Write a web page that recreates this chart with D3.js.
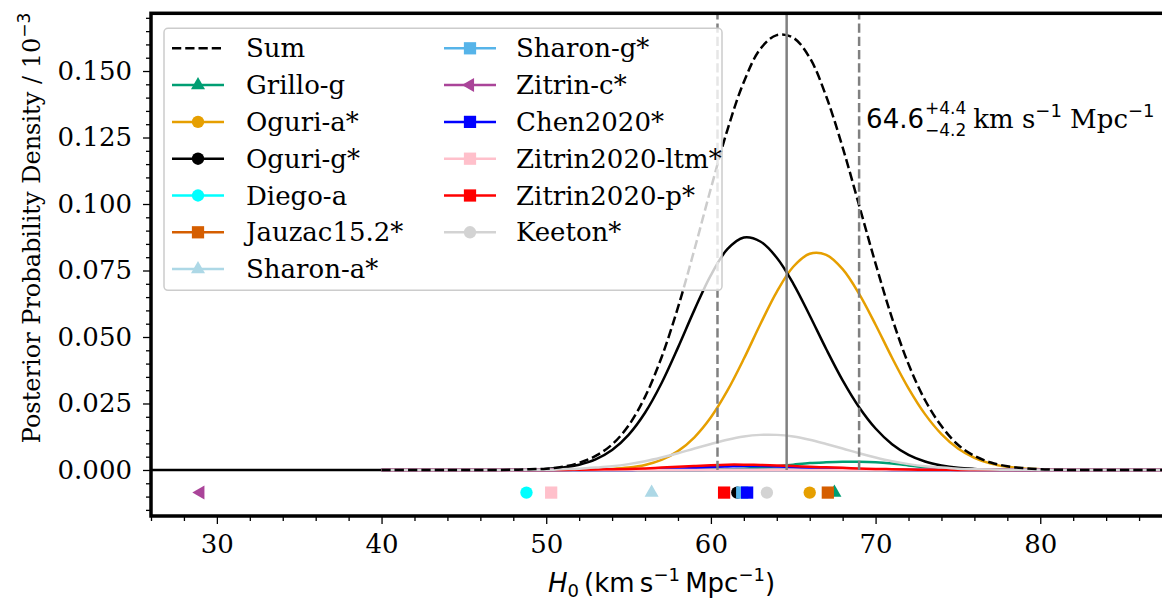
<!DOCTYPE html>
<html>
<head>
<meta charset="utf-8">
<script src="https://cdn.jsdelivr.net/npm/d3@7/dist/d3.min.js"></script>
<style>
  body { margin: 0; background: #fff; }
  svg { display: block; }
</style>
</head>
<body>
<svg id="chart" width="1162" height="600"></svg>
<script>
// H0 sample positions (km/s/Mpc) for the posterior curves
const h0Grid = [40, 44, 46, 48, 49, 50, 51, 52, 53, 54, 55, 56, 57, 58, 59, 60, 61, 62, 63, 64,
                65, 66, 67, 68, 69, 70, 71, 72, 73, 74, 75, 76, 77, 78, 79, 80, 81, 82, 84, 88];

// posterior densities (axis units, i.e. x 10^-3)
const sumDensity = [0, 0, 0, 0.0001, 0.0003, 0.0005, 0.0012, 0.0027, 0.0053, 0.0096, 0.0167, 0.0275, 0.0423, 0.0611,
  0.0829, 0.1059, 0.1278, 0.1459, 0.1583, 0.1635, 0.1625, 0.1550, 0.1405, 0.1213, 0.0995, 0.0776, 0.0571,
  0.0398, 0.0263, 0.0165, 0.0095, 0.0053, 0.0028, 0.0014, 0.0007, 0.0003, 0.0001, 0, 0, 0];
const grilloG = [0, 0, 0, 0, 0, 0, 0, 0, 0, 0, 0, 0, 0, 0, 0, 0.0001, 0.0002, 0.0005, 0.0009, 0.0014, 0.0020,
  0.0026, 0.0029, 0.0031, 0.0031, 0.0029, 0.0024, 0.0017, 0.0010, 0.0005, 0.0002, 0.0001, 0, 0, 0, 0, 0, 0, 0, 0];
const oguriA = [0, 0, 0, 0, 0, 0, 0, 0.0001, 0.0002, 0.0004, 0.0009, 0.0019, 0.0038, 0.0071, 0.0123, 0.0198,
  0.0298, 0.0418, 0.0548, 0.0670, 0.0764, 0.0813, 0.0809, 0.0755, 0.0662, 0.0546, 0.0422, 0.0307, 0.0210,
  0.0135, 0.0081, 0.0046, 0.0024, 0.0012, 0.0006, 0.0003, 0.0001, 0, 0, 0];
const oguriG = [0, 0, 0, 0.0001, 0.0002, 0.0004, 0.0009, 0.0020, 0.0040, 0.0075, 0.0132, 0.0215, 0.0326, 0.0460,
  0.0602, 0.0733, 0.0830, 0.0874, 0.0859, 0.0798, 0.0701, 0.0581, 0.0455, 0.0337, 0.0236, 0.0156, 0.0097,
  0.0057, 0.0032, 0.0017, 0.0008, 0.0004, 0.0002, 0.0001, 0, 0, 0, 0, 0, 0];
const chen2020 = [0, 0, 0, 0, 0, 0, 0, 0, 0, 0, 0, 0.0002, 0.0003, 0.0005, 0.0008, 0.0011, 0.0013, 0.0015, 0.0015,
  0.0013, 0.0011, 0.0008, 0.0006, 0.0004, 0.0002, 0.0001, 0, 0, 0, 0, 0, 0, 0, 0, 0, 0, 0, 0, 0, 0];
const zitrin2020p = [0, 0, 0, 0, 0, 0, 0, 0.0001, 0.0002, 0.0003, 0.0004, 0.0006, 0.0009, 0.0012, 0.0015, 0.0018,
  0.0020, 0.0020, 0.0019, 0.0017, 0.0015, 0.0012, 0.0010, 0.0008, 0.0006, 0.0004, 0.0003, 0.0002, 0.0001,
  0.0001, 0, 0, 0, 0, 0, 0, 0, 0, 0, 0];
const keeton = [0, 0, 0, 0, 0.0001, 0.0001, 0.0003, 0.0005, 0.0009, 0.0014, 0.0022, 0.0033, 0.0047, 0.0063,
  0.0081, 0.0098, 0.0114, 0.0126, 0.0132, 0.0132, 0.0126, 0.0114, 0.0098, 0.0081, 0.0063, 0.0047, 0.0033,
  0.0022, 0.0014, 0.0009, 0.0005, 0.0003, 0.0002, 0.0001, 0.0001, 0, 0, 0, 0, 0];
// models whose curve stays on zero over the plotted range
const flatH = [40, 88];
const flatZero = [0, 0];
// Oguri-g is also drawn on zero below the grid
const lowTailH = [26, 40];

// best-fit H0 per model, shown as markers under the curves
const modelNames = ["Grillo-g", "Oguri-a*", "Oguri-g*", "Diego-a", "Jauzac15.2*", "Sharon-a*",
  "Sharon-g*", "Zitrin-c*", "Chen2020*", "Zitrin2020-ltm*", "Zitrin2020-p*", "Keeton*"];
const modelBestH0 = [67.5, 66.0, 61.6, 48.8, 67.1, 56.4, 61.9, 29.0, 62.2, 50.3, 60.8, 63.4];
const markerLevel = -0.0085;

const medianH0 = 64.6, errLow = 4.2, errHigh = 4.4;
const xMajorTicks = [30, 40, 50, 60, 70, 80];
const yMajorTicks = [0, 0.025, 0.05, 0.075, 0.1, 0.125, 0.15];

const curveData = {
  "Grillo-g": [h0Grid, grilloG], "Oguri-a*": [h0Grid, oguriA], "Oguri-g*": [h0Grid, oguriG],
  "Diego-a": [flatH, flatZero], "Jauzac15.2*": [flatH, flatZero], "Sharon-a*": [flatH, flatZero],
  "Sharon-g*": [flatH, flatZero], "Zitrin-c*": [flatH, flatZero], "Chen2020*": [h0Grid, chen2020],
  "Zitrin2020-ltm*": [flatH, flatZero], "Zitrin2020-p*": [h0Grid, zitrin2020p], "Keeton*": [h0Grid, keeton]
};

const modelStyle = {
  "Grillo-g": { color: "#009E73", shape: "up" },
  "Oguri-a*": { color: "#E69F00", shape: "circle" },
  "Oguri-g*": { color: "#000000", shape: "circle" },
  "Diego-a": { color: "#00FFFF", shape: "circle" },
  "Jauzac15.2*": { color: "#D55E00", shape: "square" },
  "Sharon-a*": { color: "#ADD8E6", shape: "up" },
  "Sharon-g*": { color: "#56B4E9", shape: "square" },
  "Zitrin-c*": { color: "#AA4499", shape: "left" },
  "Chen2020*": { color: "#0000FF", shape: "square" },
  "Zitrin2020-ltm*": { color: "#FFC0CB", shape: "square" },
  "Zitrin2020-p*": { color: "#FF0000", shape: "square" },
  "Keeton*": { color: "#D3D3D3", shape: "circle" }
};

const serif = "'DejaVu Serif', serif";
const sans = "'DejaVu Sans', sans-serif";

const svg = d3.select("#chart");
const plot = { left: 151, right: 1172, top: 13.3, bottom: 516 };

const x = d3.scaleLinear().domain([26, 88]).range([plot.left, plot.right]);
const y = d3.scaleLinear().domain([-0.0173, 0.1717]).range([plot.bottom, plot.top]);

svg.append("defs").append("clipPath").attr("id", "clip")
  .append("rect").attr("x", plot.left).attr("y", plot.top)
  .attr("width", plot.right - plot.left).attr("height", plot.bottom - plot.top);

const line = d3.line().x(d => x(d[0])).y(d => y(d[1])).curve(d3.curveCatmullRom.alpha(0.5));
const zip = (hs, vs) => hs.map((h, i) => [h, vs[i]]);

function symbolPath(shape) {
  if (shape === "circle") return d3.symbol(d3.symbolCircle, 120)();
  if (shape === "square") return d3.symbol(d3.symbolSquare, 150)();
  return d3.symbol(d3.symbolTriangle, 85)();
}
const rot = shape => shape === "left" ? " rotate(-90)" : "";

const g = svg.append("g").attr("clip-path", "url(#clip)");

// curves
g.append("path").attr("d", line(zip(lowTailH, flatZero)))
  .attr("fill", "none").attr("stroke", modelStyle["Oguri-g*"].color).attr("stroke-width", 2.5);
modelNames.forEach(name => {
  const [hs, vs] = curveData[name];
  g.append("path").attr("d", line(zip(hs, vs)))
    .attr("fill", "none").attr("stroke", modelStyle[name].color).attr("stroke-width", 2.5);
});
g.append("path").attr("d", line(zip(h0Grid, sumDensity)))
  .attr("fill", "none").attr("stroke", "#000").attr("stroke-width", 2.5)
  .attr("stroke-dasharray", "9.25,4");

// median and 68% interval
g.append("line").attr("x1", x(medianH0)).attr("x2", x(medianH0))
  .attr("y1", y(0)).attr("y2", plot.top).attr("stroke", "#808080").attr("stroke-width", 2.5);
[medianH0 - errLow, medianH0 + errHigh].forEach(v => {
  g.append("line").attr("x1", x(v)).attr("x2", x(v))
    .attr("y1", y(0)).attr("y2", plot.top).attr("stroke", "#808080").attr("stroke-width", 2.5)
    .attr("stroke-dasharray", "9.25,4");
});

// best-fit markers
modelNames.forEach((name, i) => {
  const s = modelStyle[name];
  g.append("path").attr("d", symbolPath(s.shape))
    .attr("transform", `translate(${x(modelBestH0[i])},${y(markerLevel)})${rot(s.shape)}`)
    .attr("fill", s.color);
});

// axes
svg.append("g").attr("transform", `translate(0,${plot.bottom})`)
  .call(d3.axisBottom(x).tickValues(xMajorTicks).tickSize(8).tickPadding(10.5).tickSizeOuter(0));
const xMinor = d3.range(26, 89, 2).filter(v => v % 10 !== 0);
svg.append("g").attr("transform", `translate(0,${plot.bottom})`)
  .call(d3.axisBottom(x).tickValues(xMinor).tickSize(5).tickFormat("").tickSizeOuter(0));

svg.append("g").attr("transform", `translate(${plot.left},0)`)
  .call(d3.axisLeft(y).tickValues(yMajorTicks).tickSize(8).tickPadding(11)
    .tickFormat(d3.format(".3f")).tickSizeOuter(0));
const yMinor = d3.range(-15, 171, 5).filter(v => v % 25 !== 0).map(v => v / 1000);
svg.append("g").attr("transform", `translate(${plot.left},0)`)
  .call(d3.axisLeft(y).tickValues(yMinor).tickSize(5).tickFormat("").tickSizeOuter(0));

svg.selectAll(".domain").remove();
svg.selectAll(".tick line").attr("stroke", "#000").attr("stroke-width", 1.3);
svg.selectAll(".tick text").style("font-family", serif).style("font-size", "26px").attr("fill", "#000");

// frame
svg.append("rect").attr("x", plot.left).attr("y", plot.top)
  .attr("width", plot.right - plot.left).attr("height", plot.bottom - plot.top)
  .attr("fill", "none").attr("stroke", "#000").attr("stroke-width", 3.5);

// axis labels
const xl = svg.append("text").attr("x", (plot.left + plot.right) / 2).attr("y", 592)
  .attr("text-anchor", "middle").style("font-family", sans).style("font-size", "26px");
xl.append("tspan").style("font-style", "italic").text("H");
xl.append("tspan").attr("dy", 5).style("font-size", "18px").text("0");
xl.append("tspan").attr("dy", -5).text("\u2009(km\u2009s");
xl.append("tspan").attr("dy", -11).style("font-size", "18px").text("\u22121");
xl.append("tspan").attr("dy", 11).text("\u2009Mpc");
xl.append("tspan").attr("dy", -11).style("font-size", "18px").text("\u22121");
xl.append("tspan").attr("dy", 11).text(")");

const yl = svg.append("text").attr("transform", "translate(40,228) rotate(-90)")
  .attr("text-anchor", "middle").style("font-family", serif).style("font-size", "24px");
yl.append("tspan").text("Posterior Probability Density / 10");
yl.append("tspan").attr("dy", -10).style("font-size", "17px").style("font-family", sans).text("\u22123");

// annotation of the combined estimate
const annX = x(medianH0 + errHigh) + 7, annY = 128;
const a1 = svg.append("text").attr("x", annX).attr("y", annY)
  .style("font-family", sans).style("font-size", "26px").text(medianH0.toFixed(1));
const w1 = a1.node().getComputedTextLength();
const sup = svg.append("text").attr("x", annX + w1 + 1).attr("y", annY - 14)
  .style("font-family", sans).style("font-size", "17px").text("+" + errHigh.toFixed(1));
const sub = svg.append("text").attr("x", annX + w1 + 1).attr("y", annY + 8)
  .style("font-family", sans).style("font-size", "17px").text("\u2212" + errLow.toFixed(1));
const w2 = Math.max(sup.node().getComputedTextLength(), sub.node().getComputedTextLength());
const a2 = svg.append("text").attr("x", annX + w1 + w2 + 8).attr("y", annY)
  .style("font-family", serif).style("font-size", "26px");
a2.append("tspan").text("km s");
a2.append("tspan").attr("dy", -11).style("font-family", sans).style("font-size", "18px").text("\u22121");
a2.append("tspan").attr("dy", 11).text("\u00a0Mpc");
a2.append("tspan").attr("dy", -11).style("font-family", sans).style("font-size", "18px").text("\u22121");

// legend
const legend = svg.append("g");
legend.append("rect").attr("x", 164).attr("y", 28.3).attr("width", 558).attr("height", 262)
  .attr("rx", 4).attr("fill", "#fff").attr("fill-opacity", 0.8)
  .attr("stroke", "#cccccc").attr("stroke-width", 1.5);
const entries = ["Sum", ...modelNames];
entries.forEach((name, i) => {
  const col = i < 7 ? 0 : 1, row = i < 7 ? i : i - 7;
  const x0 = col === 0 ? 172 : 444, yy = 48.3 + row * 36.8;
  const item = legend.append("g");
  if (name === "Sum") {
    item.append("line").attr("x1", x0).attr("x2", x0 + 52).attr("y1", yy).attr("y2", yy)
      .attr("stroke", "#000").attr("stroke-width", 2.5).attr("stroke-dasharray", "9.25,4");
  } else {
    const s = modelStyle[name];
    item.append("line").attr("x1", x0).attr("x2", x0 + 52).attr("y1", yy).attr("y2", yy)
      .attr("stroke", s.color).attr("stroke-width", 2.5);
    item.append("path").attr("d", symbolPath(s.shape))
      .attr("transform", `translate(${x0 + 26},${yy})${rot(s.shape)}`).attr("fill", s.color);
  }
  item.append("text").attr("x", col === 0 ? 246 : 516).attr("y", yy).attr("dy", "0.35em")
    .style("font-family", serif).style("font-size", "26px").text(name);
});
</script>
</body>
</html>
